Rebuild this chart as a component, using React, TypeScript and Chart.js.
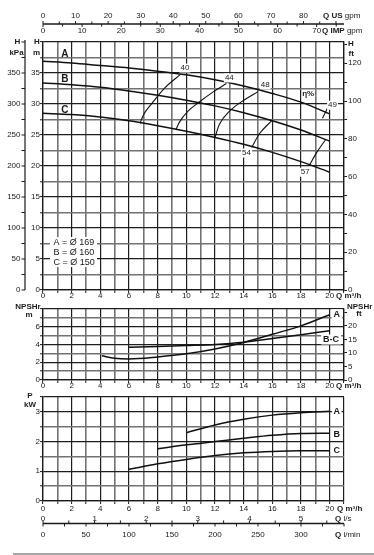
import React, { useEffect, useRef } from 'react';
import { Chart, registerables } from 'chart.js';

Chart.register(...registerables);

const FONT = '"Liberation Sans", Arial, Helvetica, sans-serif';
const INK = '#1a1a1a';
const MAJOR = '#1e1e1e';
const MINOR = '#727272';

// ---------- axis data ----------
const qMax = 21; // m3/h, right edge of the grid
const qLabelMax = 20;
const US_GPM = 0.2271247; // m3/h per US gpm
const IMP_GPM = 0.2727655; // m3/h per IMP gpm
const LPS = 3.6; // m3/h per l/s
const LPM = 0.06; // m3/h per l/min
const M_TO_FT = 3.28084;

const usGpmLabels = [0, 10, 20, 30, 40, 50, 60, 70, 80];
const impGpmLabels = [0, 10, 20, 30, 40, 50, 60, 70];
const lpsLabels = [0, 1, 2, 3, 4, 5];
const lpmLabels = [0, 50, 100, 150, 200, 250, 300];

// ---------- head curves H (m) vs Q (m3/h) ----------
const flowQ = [0, 2, 4, 6, 8, 10, 12, 14, 16, 18, 20];
const headA = [36.9, 36.6, 36.2, 35.8, 35.3, 34.7, 33.9, 32.9, 31.7, 30.3, 28.4];
const headB = [33.4, 33.1, 32.7, 32.1, 31.4, 30.6, 29.7, 28.6, 27.3, 25.8, 24.0];
const headC = [28.5, 28.3, 27.9, 27.3, 26.5, 25.6, 24.6, 23.5, 22.2, 20.7, 19.0];
const curveNames = ['A', 'B', 'C'];
const curveNameQ = [1.53, 1.53, 1.53];
const curveNameH = [38.0, 34.05, 28.95];
const impellers = ['A = Ø 169', 'B = Ø 160', 'C = Ø 150'];

// ---------- iso-efficiency lines ----------
const eff40Q = [6.77, 7.0, 7.6, 8.5, 9.55];
const eff40H = [26.9, 28.2, 30.1, 32.6, 34.7];
const eff44Q = [9.26, 9.5, 10.1, 10.95, 11.9, 12.8];
const eff44H = [25.8, 27.0, 28.8, 30.4, 32.0, 33.3];
const eff48Q = [12.0, 12.3, 13.0, 14.0, 15.0];
const eff48H = [24.6, 26.7, 28.8, 30.6, 32.0];
const eff49Q = [19.5, 19.9];
const eff49H = [27.7, 29.6];
const eff54Q = [14.56, 15.1, 15.96];
const eff54H = [23.0, 25.2, 27.3];
const eff57Q = [18.58, 19.1, 19.7];
const eff57H = [20.1, 22.2, 24.2];
const effLabels = ['40', '44', '48', '49', '54', '57'];
const effLabelQ = [9.9, 13.0, 15.5, 20.2, 14.2, 18.3];
const effLabelH = [35.8, 34.2, 33.1, 29.8, 22.1, 19.0];

// ---------- NPSHr (m) ----------
const npshAQ = [4.1, 5, 6, 8, 10, 12, 14, 16, 18, 20];
const npshA = [2.72, 2.45, 2.38, 2.6, 2.95, 3.5, 4.23, 5.15, 6.1, 7.36];
const npshBCQ = [6, 8, 10, 12, 14, 16, 18, 20];
const npshBC = [3.7, 3.78, 3.88, 4.0, 4.25, 4.67, 5.1, 5.55];
const npshNames = ['A', 'B-C'];
const npshNameQ = [20.5, 20.1];
const npshNameV = [7.4, 4.56];

// ---------- power P (kW) ----------
const powerAQ = [10, 12, 14, 16, 18, 20];
const powerA = [2.3, 2.56, 2.75, 2.89, 2.97, 3.02];
const powerBQ = [8, 10, 12, 14, 16, 18, 20];
const powerB = [1.76, 1.89, 2.0, 2.11, 2.21, 2.27, 2.28];
const powerCQ = [6, 8, 10, 12, 14, 16, 18, 20];
const powerC = [1.07, 1.25, 1.4, 1.53, 1.62, 1.67, 1.69, 1.69];
const powerNames = ['A', 'B', 'C'];
const powerNameQ = [20.5, 20.5, 20.5];
const powerNameV = [3.01, 2.25, 1.7];

// ---------- helpers ----------
type Ctx = CanvasRenderingContext2D;

function text(ctx: Ctx, s: string, x: number, y: number, align: CanvasTextAlign = 'center', bold = false, size = 8) {
  ctx.save();
  ctx.font = `${bold ? 'bold ' : ''}${size}px ${FONT}`;
  ctx.fillStyle = INK;
  ctx.textAlign = align;
  ctx.textBaseline = 'middle';
  ctx.fillText(s, x, y);
  ctx.restore();
}

function boxedText(ctx: Ctx, s: string, x: number, y: number, bold: boolean, size: number, padX = 1.5, padY = 0.5) {
  ctx.save();
  ctx.font = `${bold ? 'bold ' : ''}${size}px ${FONT}`;
  const w = ctx.measureText(s).width;
  ctx.fillStyle = '#fff';
  ctx.fillRect(x - w / 2 - padX, y - size / 2 - padY, w + 2 * padX, size + 2 * padY);
  ctx.fillStyle = INK;
  ctx.textAlign = 'center';
  ctx.textBaseline = 'middle';
  ctx.fillText(s, x, y);
  ctx.restore();
}

function mixedText(ctx: Ctx, boldPart: string, rest: string, x: number, y: number, size = 8) {
  ctx.save();
  ctx.fillStyle = INK;
  ctx.textAlign = 'left';
  ctx.textBaseline = 'middle';
  ctx.font = `bold ${size}px ${FONT}`;
  ctx.fillText(boldPart, x, y);
  const w = ctx.measureText(boldPart).width;
  ctx.font = `${size}px ${FONT}`;
  ctx.fillText(rest, x + w, y);
  ctx.restore();
}

function hLine(ctx: Ctx, x1: number, x2: number, y: number, w = 1.1, c = INK) {
  ctx.save();
  ctx.strokeStyle = c;
  ctx.lineWidth = w;
  ctx.beginPath();
  ctx.moveTo(x1, y);
  ctx.lineTo(x2, y);
  ctx.stroke();
  ctx.restore();
}

function vLine(ctx: Ctx, x: number, y1: number, y2: number, w = 1, c = INK) {
  ctx.save();
  ctx.strokeStyle = c;
  ctx.lineWidth = w;
  ctx.beginPath();
  ctx.moveTo(x, y1);
  ctx.lineTo(x, y2);
  ctx.stroke();
  ctx.restore();
}

const tickFont = { family: FONT, size: 8 };

const gridX = {
  color: (c: any) => (c.tick && (c.tick.value % 2 === 0 || c.tick.value === qMax) ? MAJOR : MINOR),
  lineWidth: (c: any) => (c.tick && (c.tick.value % 2 === 0 || c.tick.value === qMax) ? 1.2 : 1.6),
  tickLength: 3,
  tickColor: INK,
  tickWidth: 1,
};

function qScale(height: number, pad: number) {
  return {
    type: 'linear',
    min: 0,
    max: qMax,
    afterFit: (s: any) => {
      s.height = height;
    },
    ticks: {
      stepSize: 1,
      autoSkip: false,
      maxRotation: 0,
      padding: pad,
      font: tickFont,
      color: INK,
      callback: (v: any) => (v % 2 === 0 && v <= qLabelMax ? String(v) : ''),
    },
    grid: gridX,
    border: { color: INK, width: 1.3 },
  };
}

function valueScale(max: number, step: number, isMajor: (v: number) => boolean, isLabel: (v: number) => boolean) {
  return {
    type: 'linear',
    position: 'left',
    min: 0,
    max,
    afterFit: (s: any) => {
      s.width = 43;
    },
    ticks: {
      stepSize: step,
      autoSkip: false,
      padding: 0,
      font: tickFont,
      color: INK,
      callback: (v: any) => (isLabel(v) ? String(v) : ''),
    },
    grid: {
      color: (c: any) => (c.tick && (isMajor(c.tick.value) || c.tick.value === max) ? MAJOR : MINOR),
      lineWidth: (c: any) => (c.tick && (isMajor(c.tick.value) || c.tick.value === max) ? 1.2 : 1.6),
      tickLength: 3,
      tickColor: INK,
      tickWidth: 1,
    },
    border: { color: INK, width: 1.3 },
  };
}

function rightScale(max: number, step: number, isLabel: (v: number) => boolean) {
  return {
    type: 'linear',
    position: 'right',
    min: 0,
    max,
    afterFit: (s: any) => {
      s.width = 30;
    },
    ticks: {
      stepSize: step,
      includeBounds: false,
      autoSkip: false,
      padding: 1,
      font: tickFont,
      color: INK,
      callback: (v: any) => (isLabel(v) ? String(v) : ''),
    },
    grid: { drawOnChartArea: false, tickLength: 3, color: INK, tickWidth: 1 },
    border: { color: INK, width: 1.3 },
  };
}

function curve(qs: number[], vs: number[], width = 1.5) {
  return {
    data: qs.map((q, i) => ({ x: q, y: vs[i] })),
    borderColor: '#111',
    borderWidth: width,
    pointRadius: 0,
    cubicInterpolationMode: 'monotone',
    fill: false,
  };
}

const baseOptions = {
  responsive: false,
  animation: false,
  events: [],
  plugins: { legend: { display: false }, tooltip: { enabled: false } },
};

// ---------- chart 1: head ----------
const headDecor = {
  id: 'headDecor',
  afterDraw(chart: any) {
    const ctx: Ctx = chart.ctx;
    const x = chart.scales.x;
    const y = chart.scales.y;
    const ca = chart.chartArea;

    // kPa axis
    const kx = 25;
    vLine(ctx, kx, y.getPixelForValue(0), y.getPixelForValue(40) - 2, 1.2);
    for (let k = 0; k <= 400; k += 25) {
      const py = y.getPixelForValue(k / 10);
      hLine(ctx, kx - 3.5, kx, py, 1);
      if (k % 50 === 0 && k < 400) text(ctx, String(k), kx - 4.5, py, 'right');
    }
    text(ctx, 'H', 17.5, 41.5, 'center', true);
    text(ctx, 'kPa', 16.5, 52.5, 'center', true);
    text(ctx, 'H', 37, 41.5, 'center', true);
    text(ctx, 'm', 36.5, 52.5, 'center', true);
    text(ctx, 'H', 348, 44, 'left', true);
    text(ctx, 'ft', 348.5, 54, 'left', true);

    // top flow axes (US gpm above, IMP gpm below)
    const ay = 24;
    hLine(ctx, x.getPixelForValue(0), x.getPixelForValue(qMax), ay, 1.3);
    for (let g = 0; g * US_GPM <= qMax; g += 5) {
      const px = x.getPixelForValue(g * US_GPM);
      vLine(ctx, px, ay - (g % 10 === 0 ? 3 : 2.5), ay, 1);
    }
    usGpmLabels.forEach((g) => text(ctx, String(g), x.getPixelForValue(g * US_GPM), 16));
    for (let g = 0; g * IMP_GPM <= qMax; g += 5) {
      const px = x.getPixelForValue(g * IMP_GPM);
      vLine(ctx, px, ay, ay + (g % 10 === 0 ? 3 : 2.5), 1);
    }
    impGpmLabels.forEach((g) => text(ctx, String(g), x.getPixelForValue(g * IMP_GPM), 31));
    mixedText(ctx, 'Q US', ' gpm', 323, 16);
    mixedText(ctx, 'Q IMP', ' gpm', 322, 31);

    // curve names
    curveNames.forEach((n, i) =>
      text(ctx, n, x.getPixelForValue(curveNameQ[i]), y.getPixelForValue(curveNameH[i]), 'center', true, 10)
    );

    // efficiency labels
    effLabels.forEach((n, i) =>
      boxedText(ctx, n, x.getPixelForValue(effLabelQ[i]), y.getPixelForValue(effLabelH[i]), false, 8, 1, 0.5)
    );
    text(ctx, 'η%', x.getPixelForValue(18.5), y.getPixelForValue(31.6), 'center', true, 8);

    // impeller legend box
    ctx.save();
    ctx.fillStyle = '#fff';
    ctx.fillRect(ca.left + 7, ca.top + 195, 47, 30);
    ctx.restore();
    impellers.forEach((s, i) => text(ctx, s, ca.left + 10.5, ca.top + 200.3 + i * 10, 'left', false, 9));

    // Q unit
    text(ctx, 'Q m³/h', 336, 296, 'left', true);
  },
};

function headConfig(): any {
  return {
    type: 'line',
    data: {
      datasets: [
        curve(flowQ, headA),
        curve(flowQ, headB),
        curve(flowQ, headC),
        curve(eff40Q, eff40H, 1.1),
        curve(eff44Q, eff44H, 1.1),
        curve(eff48Q, eff48H, 1.1),
        curve(eff49Q, eff49H, 1.1),
        curve(eff54Q, eff54H, 1.1),
        curve(eff57Q, eff57H, 1.1),
      ],
    },
    options: {
      ...baseOptions,
      layout: { padding: { top: 42, left: 0, right: 0, bottom: 0 } },
      scales: {
        x: qScale(12, -2),
        y: valueScale(40, 2.5, (v) => v % 5 === 0, (v) => v % 5 === 0 && v < 40),
        yft: rightScale(40 * M_TO_FT, 10, (v) => v % 20 === 0),
      },
    },
    plugins: [headDecor],
  };
}

// ---------- chart 2: NPSHr ----------
const npshDecor = {
  id: 'npshDecor',
  afterDraw(chart: any) {
    const ctx: Ctx = chart.ctx;
    const x = chart.scales.x;
    const y = chart.scales.y;
    text(ctx, 'NPSHr', 28, 8.5, 'center', true);
    text(ctx, 'm', 29, 16.5, 'center', true);
    text(ctx, 'NPSHr', 347, 8.5, 'left', true);
    text(ctx, 'ft', 359, 16, 'center', true);
    npshNames.forEach((n, i) =>
      boxedText(ctx, n, x.getPixelForValue(npshNameQ[i]), y.getPixelForValue(npshNameV[i]), true, 9, 2, 0.5)
    );
    text(ctx, 'Q m³/h', 336, 88, 'left', true);
  },
};

function npshConfig(): any {
  return {
    type: 'line',
    data: { datasets: [curve(npshAQ, npshA), curve(npshBCQ, npshBC)] },
    options: {
      ...baseOptions,
      layout: { padding: { top: 11, left: 0, right: 0, bottom: 0 } },
      scales: {
        x: qScale(13, -2),
        y: valueScale(8, 1, (v) => v % 2 === 0, (v) => v % 2 === 0 && v < 8),
        yft: rightScale(8 * M_TO_FT, 5, (v) => v <= 20),
      },
    },
    plugins: [npshDecor],
  };
}

// ---------- chart 3: power ----------
const powerDecor = {
  id: 'powerDecor',
  afterDraw(chart: any) {
    const ctx: Ctx = chart.ctx;
    const x = chart.scales.x;
    const y = chart.scales.y;
    text(ctx, 'P', 30, 7.5, 'center', true);
    text(ctx, 'kW', 30, 17, 'center', true);
    powerNames.forEach((n, i) =>
      boxedText(ctx, n, x.getPixelForValue(powerNameQ[i]), y.getPixelForValue(powerNameV[i]), true, 9, 1.5, 0.5)
    );
    text(ctx, 'Q m³/h', 337, 120.7, 'left', true);

    // l/s and l/min axes
    const ay = 135.5;
    hLine(ctx, x.getPixelForValue(0), x.getPixelForValue(qMax), ay, 1.3);
    for (let v = 0; v * LPS <= qMax; v += 0.5) {
      vLine(ctx, x.getPixelForValue(v * LPS), ay - 3, ay, 1);
    }
    lpsLabels.forEach((v) => text(ctx, String(v), x.getPixelForValue(v * LPS), 131));
    for (let v = 0; v * LPM <= qMax; v += 25) {
      vLine(ctx, x.getPixelForValue(v * LPM), ay, ay + 3, 1);
    }
    lpmLabels.forEach((v) => text(ctx, String(v), x.getPixelForValue(v * LPM), 147));
    mixedText(ctx, 'Q', ' l/s', 335, 131);
    mixedText(ctx, 'Q', ' l/min', 335, 147);

    // page rule
    hLine(ctx, 13, 374, 166, 1.5, '#8a8a8a');
  },
};

function powerConfig(): any {
  return {
    type: 'line',
    data: { datasets: [curve(powerAQ, powerA), curve(powerBQ, powerB), curve(powerCQ, powerC)] },
    options: {
      ...baseOptions,
      layout: { padding: { top: 9, left: 0, right: 30, bottom: 0 } },
      scales: {
        x: qScale(54, -0.5),
        y: valueScale(3.5, 0.5, (v) => v % 1 === 0, (v) => v % 1 === 0),
      },
    },
    plugins: [powerDecor],
  };
}

function ChartCanvas({ top, height, make }: { top: number; height: number; make: () => any }) {
  const ref = useRef<HTMLCanvasElement | null>(null);
  useEffect(() => {
    if (!ref.current) return;
    const c = new Chart(ref.current, make());
    return () => c.destroy();
  }, [make]);
  return (
    <canvas
      ref={ref}
      width={374}
      height={height}
      style={{ position: 'absolute', left: 0, top, width: 374, height, display: 'block' }}
    />
  );
}

export default function App() {
  return (
    <div style={{ position: 'fixed', left: 0, top: 0, width: 374, height: 555, background: '#fff', overflow: 'hidden' }}>
      <ChartCanvas top={0} height={302} make={headConfig} />
      <ChartCanvas top={298} height={95} make={npshConfig} />
      <ChartCanvas top={388} height={167} make={powerConfig} />
    </div>
  );
}
